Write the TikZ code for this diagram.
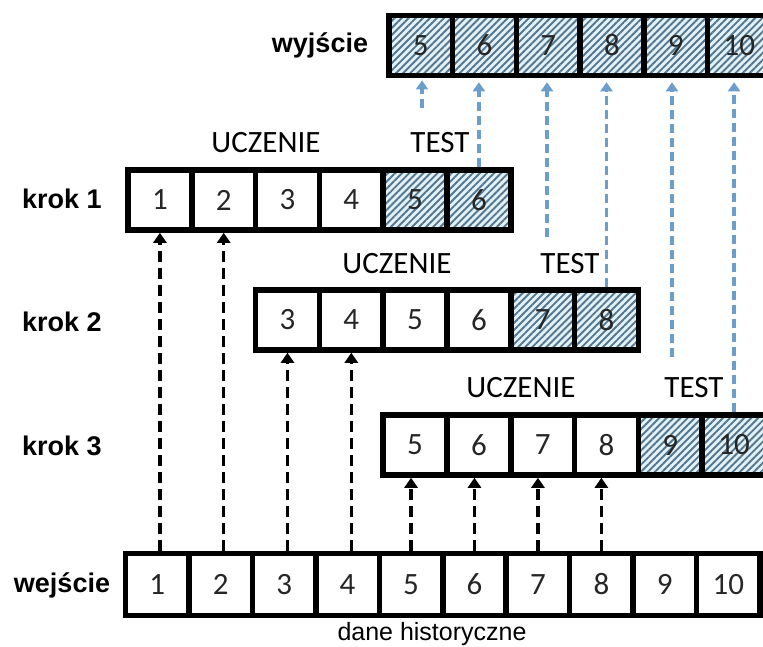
\documentclass[tikz,border=0pt]{standalone}
\usepackage{fontspec}
\setmainfont{Liberation Sans}
\newfontfamily\cellfont{Carlito}
\usetikzlibrary{arrows.meta,patterns.meta}

\definecolor{hatchbg}{RGB}{226,242,248}
\definecolor{hatchln}{RGB}{84,118,142}
\definecolor{outblue}{RGB}{108,158,204}

\tikzset{
  cell/.style={draw, line width=5.5pt, minimum width=63.8pt, minimum height=60pt,
    inner sep=0pt, font=\cellfont\fontsize{31}{31}\selectfont, text=black!85},
  testcell/.style={cell, preaction={fill=hatchbg},
    pattern={Lines[angle=45,distance=5pt,line width=1.9pt]}, pattern color=hatchln},
  rowlabel/.style={anchor=base, inner sep=0pt, font=\bfseries\fontsize{27}{27}\selectfont},
  phase/.style={anchor=base, inner sep=0pt, font=\cellfont\fontsize{31}{31}\selectfont},
  caption/.style={anchor=base, inner sep=0pt, font=\fontsize{25}{25}\selectfont},
  inarrow/.style={draw, line width=3.5pt, dash pattern=on 11pt off 6pt,
    -{Triangle[width=13pt,length=10pt]}},
  outarrow/.style={draw=outblue, line width=3.5pt, dash pattern=on 9pt off 5pt,
    -{Triangle[width=12pt,length=9pt]}, shorten >=4pt}
}

\begin{document}
\begin{tikzpicture}[x=1pt, y=-1pt]
\useasboundingbox (0,0) rectangle (763,646);

% output row
\foreach \k [evaluate=\k as \cx using 389+63.7*(\k-4.5)] in {5,...,10}
  \node[testcell, minimum width=63.7pt] (out\k) at (\cx,45.5) {\k};
\node[rowlabel] (lout) at (320,52) {wyjście};

% step 1
\foreach \k [evaluate=\k as \cx using 128+63.8*(\k-0.5)] in {1,...,4}
  \node[cell] (k1c\k) at (\cx,200) {\k};
\foreach \k [evaluate=\k as \cx using 128+63.8*(\k-0.5)] in {5,6}
  \node[testcell] (k1c\k) at (\cx,200) {\k};
\node[rowlabel] (lk1) at (62,208) {krok 1};
\node[phase] (u1) at (266,152) {UCZENIE};
\node[phase] (t1) at (440,152) {TEST};

% step 2
\foreach \k [evaluate=\k as \cx using 128+63.8*(\k-0.5)] in {3,...,6}
  \node[cell] (k2c\k) at (\cx,320) {\k};
\foreach \k [evaluate=\k as \cx using 128+63.8*(\k-0.5)] in {7,8}
  \node[testcell] (k2c\k) at (\cx,320) {\k};
\node[rowlabel] (lk2) at (62,331) {krok 2};
\node[phase] (u2) at (397,273) {UCZENIE};
\node[phase] (t2) at (570,273) {TEST};

% step 3
\foreach \k [evaluate=\k as \cx using 128+63.8*(\k-0.5)] in {5,...,8}
  \node[cell] (k3c\k) at (\cx,445) {\k};
\foreach \k [evaluate=\k as \cx using 128+63.8*(\k-0.5)] in {9,10}
  \node[testcell] (k3c\k) at (\cx,445) {\k};
\node[rowlabel] (lk3) at (62,455) {krok 3};
\node[phase] (u3) at (521,397) {UCZENIE};
\node[phase] (t3) at (694,397) {TEST};

% input row
\foreach \k [evaluate=\k as \cx using 125.5+63.45*(\k-0.5)] in {1,...,10}
  \node[cell, minimum width=63.45pt, minimum height=62pt] (in\k) at (\cx,584.5) {\k};
\node[rowlabel] (lin) at (62,592) {wejście};
\node[caption] (hist) at (432,640) {dane historyczne};

% training windows fed from the historical data
\foreach \k in {1,2}
  \draw[inarrow] (k1c\k.south |- in\k.north) -- (k1c\k.south);
\foreach \k in {3,4}
  \draw[inarrow] (k2c\k.south |- in\k.north) -- (k2c\k.south);
\foreach \k in {5,...,8}
  \draw[inarrow] (in\k.north) -- (in\k.north |- k3c\k.south);

% test cells passed up to the output
\coordinate (b5) at (422,108);
\coordinate (b7) at (547,237);
\coordinate (b9) at (672,357);
\foreach \k in {5,7,9}
  \draw[outarrow] (b\k) -- (b\k |- out\k.south);
\draw[outarrow] (k1c6.north) -- (k1c6.north |- out6.south);
\draw[outarrow] (k2c8.north) -- (k2c8.north |- out8.south);
\draw[outarrow] (k3c10.north) -- (k3c10.north |- out10.south);
\end{tikzpicture}
\end{document}
